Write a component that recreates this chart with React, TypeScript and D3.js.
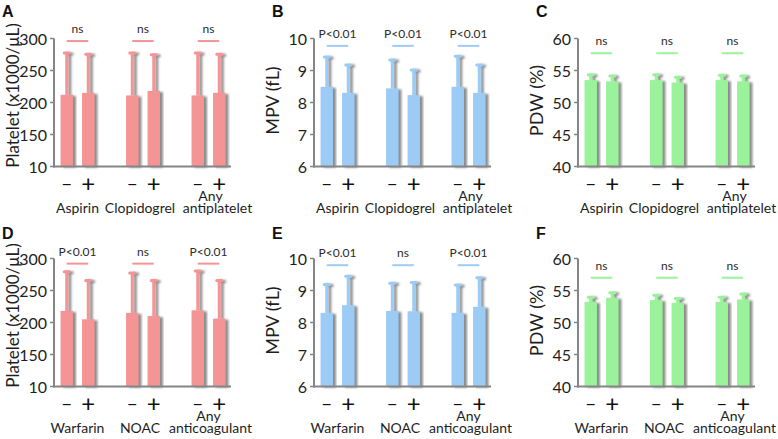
import React from "react";
import * as d3 from "d3";

// ---------- data ----------
const panelLetters = ["A", "B", "C", "D", "E", "F"];
const yTitles = ["Platelet (x1000/μL)", "MPV (fL)", "PDW (%)"];
const yDomains: [number, number][] = [[100, 300], [6, 10], [40, 60]];
const yTickValues = [[100, 150, 200, 250, 300], [6, 7, 8, 9, 10], [40, 45, 50, 55, 60]];
const yTickLabels = [["10", "150", "200", "250", "300"], ["6", "7", "8", "9", "10"], ["40", "45", "50", "55", "60"]];
const barColors = ["#F59494", "#9CCBF5", "#9AF29A"];

const groupsTop = ["Aspirin", "Clopidogrel", "Any antiplatelet"];
const groupsBottom = ["Warfarin", "NOAC", "Any anticoagulant"];
const signs = ["−", "+"];

// means per panel, ordered group1(-,+), group2(-,+), group3(-,+)
const meansA = [212, 215, 211, 218, 211, 215];
const sdA = [67, 62, 68, 58, 68, 62];
const meansB = [8.49, 8.3, 8.44, 8.23, 8.49, 8.3];
const sdB = [0.96, 0.9, 0.92, 0.82, 0.99, 0.9];
const meansC = [53.5, 53.3, 53.5, 53.1, 53.5, 53.3];
const sdC = [1.0, 1.0, 1.0, 1.0, 0.9, 1.0];
const meansD = [218, 205, 215, 210, 219, 206];
const sdD = [63, 62, 64, 57, 63, 61];
const meansE = [8.3, 8.54, 8.36, 8.35, 8.3, 8.49];
const sdE = [0.92, 0.94, 0.9, 0.93, 0.9, 0.94];
const meansF = [53.2, 53.85, 53.5, 53.06, 53.2, 53.6];
const sdF = [0.9, 0.95, 0.9, 0.85, 0.9, 1.0];

const sigA = ["ns", "ns", "ns"];
const sigB = ["P<0.01", "P<0.01", "P<0.01"];
const sigC = ["ns", "ns", "ns"];
const sigD = ["P<0.01", "ns", "P<0.01"];
const sigE = ["P<0.01", "ns", "P<0.01"];
const sigF = ["ns", "ns", "ns"];
const sigLevels = [296, 9.77, 57.7, 292, 9.79, 57];

const panelMeans = [meansA, meansB, meansC, meansD, meansE, meansF];
const panelSds = [sdA, sdB, sdC, sdD, sdE, sdF];
const panelSigs = [sigA, sigB, sigC, sigD, sigE, sigF];

// ---------- layout ----------
const W = 778, H = 439;
const axisXs = [54, 314, 578];
const plotTops = [38.5, 258.5];
const plotH = 128;
const plotW = 177;
const barW = 12.4;
const innerOff = 10.75;
const axisColor = "#858585";
const textColor = "#1e1e1e";
const FONT = "Lato, 'Open Sans', sans-serif";

function Panel({ idx }: { idx: number }) {
  const col = idx % 3;
  const row = Math.floor(idx / 3);
  const ax = axisXs[col];
  const top = plotTops[row];
  const bottom = top + plotH;
  const groups = row === 0 ? groupsTop : groupsBottom;
  const color = barColors[col];
  const y = d3.scaleLinear().domain(yDomains[col]).range([bottom, top]);
  const xg = d3.scalePoint<string>().domain(groups).range([ax + 23.5, ax + 154.5]);
  const xs = d3.scalePoint<string>().domain(signs).range([-innerOff, innerOff]);
  const means = panelMeans[idx];
  const sds = panelSds[idx];
  const sigs = panelSigs[idx];
  const sigY = y(sigLevels[idx]);

  return (
    <g>
      <text x={col === 0 ? 2 : ax - 42} y={row === 0 ? 17 : 239} fontFamily="'Liberation Sans', Arial, sans-serif" fontWeight="bold" fontSize={16} fill="#111">
        {panelLetters[idx]}
      </text>
      {/* y title */}
      <text
        transform={`translate(${ax - 42},${(top + bottom) / 2 - (col === 0 ? 7 : 2)}) rotate(-90)`}
        textAnchor="middle"
        dominantBaseline="central"
        fontFamily={FONT}
        fontSize={col === 0 ? 17 : 18}
        fill={textColor}
      >
        {yTitles[col]}
      </text>
      {/* bars */}
      {groups.map((g, gi) =>
        signs.map((s, si) => {
          const k = gi * 2 + si;
          const cx = (xg(g) as number) + (xs(s) as number);
          const m = means[k];
          const e = m + sds[k];
          return (
            <g key={`${gi}-${si}`} filter="url(#shadow)">
              <line x1={cx} x2={cx} y1={y(m)} y2={y(e) + 1} stroke={color} strokeWidth={3} />
              <line x1={cx - 2.5} x2={cx + 2.5} y1={y(e) + 1} y2={y(e) + 1} stroke={color} strokeWidth={3} strokeLinecap="round" />
              <rect x={cx - barW / 2} y={y(m)} width={barW} height={bottom - y(m)} fill={color} />
            </g>
          );
        })
      )}
      {/* sig lines */}
      {groups.map((g, gi) => {
        const x1 = (xg(g) as number) + (xs(signs[0]) as number);
        const x2 = (xg(g) as number) + (xs(signs[1]) as number);
        return (
          <g key={`sig${gi}`}>
            <line x1={x1} x2={x2} y1={sigY} y2={sigY} stroke={color} strokeWidth={2} />
            <text x={(x1 + x2) / 2} y={sigY - 8} textAnchor="middle" fontFamily={FONT} fontSize={12} fill="#2a2a2a">
              {sigs[gi]}
            </text>
          </g>
        );
      })}
      {/* axes */}
      <line x1={ax} x2={ax} y1={top} y2={bottom + 1} stroke={axisColor} strokeWidth={2} />
      <line x1={ax - 1} x2={ax + plotW} y1={bottom} y2={bottom} stroke={axisColor} strokeWidth={2} />
      {yTickValues[col].map((v, ti) => (
        <g key={`t${ti}`}>
          <line x1={ax - 4} x2={ax} y1={y(v)} y2={y(v)} stroke={axisColor} strokeWidth={1.5} />
          <text x={ax - 7} y={y(v)} textAnchor="end" dominantBaseline="central" fontFamily={FONT} fontSize={16} fill={textColor}>
            {yTickLabels[col][ti]}
          </text>
        </g>
      ))}
      {/* sign labels */}
      {groups.map((g, gi) =>
        signs.map((s, si) => (
          <text
            key={`s${gi}${si}`}
            x={(xg(g) as number) + (xs(s) as number)}
            y={si === 0 ? bottom + 23 : bottom + 25}
            textAnchor="middle"
            fontFamily={FONT}
            fontSize={si === 0 ? 18 : 24}
            fill="#111"
          >
            {s}
          </text>
        ))
      )}
      {/* group labels */}
      {groups.map((g, gi) => {
        const parts = g.startsWith("Any ") ? ["Any", g.slice(4)] : [g];
        const cx = xg(g) as number;
        return parts.length === 1 ? (
          <text key={`g${gi}`} x={cx - (gi === 1 ? 3 : 0)} y={bottom + 46} textAnchor="middle" fontFamily={FONT} fontSize={14} fill={textColor}>
            {g}
          </text>
        ) : (
          <g key={`g${gi}`}>
            <text x={cx + (row === 0 ? 2 : 0)} y={bottom + 34} textAnchor="middle" fontFamily={FONT} fontSize={14} fill={textColor}>
              {parts[0]}
            </text>
            <text x={cx + (row === 0 ? 9 : 2)} y={bottom + 46} textAnchor="middle" fontFamily={FONT} fontSize={14} fill={textColor}>
              {parts[1]}
            </text>
          </g>
        );
      })}
    </g>
  );
}

export default function App() {
  return (
    <svg width={W} height={H} style={{ position: "absolute", left: 0, top: 0, background: "#fff" }}>
      <defs>
        <filter id="shadow" x="-30%" y="-10%" width="160%" height="120%">
          <feDropShadow dx={3} dy={1} stdDeviation={0.9} floodColor="#666" floodOpacity={0.75} />
        </filter>
      </defs>
      <rect width={W} height={H} fill="#fff" />
      {panelLetters.map((_, i) => (
        <Panel key={i} idx={i} />
      ))}
    </svg>
  );
}
